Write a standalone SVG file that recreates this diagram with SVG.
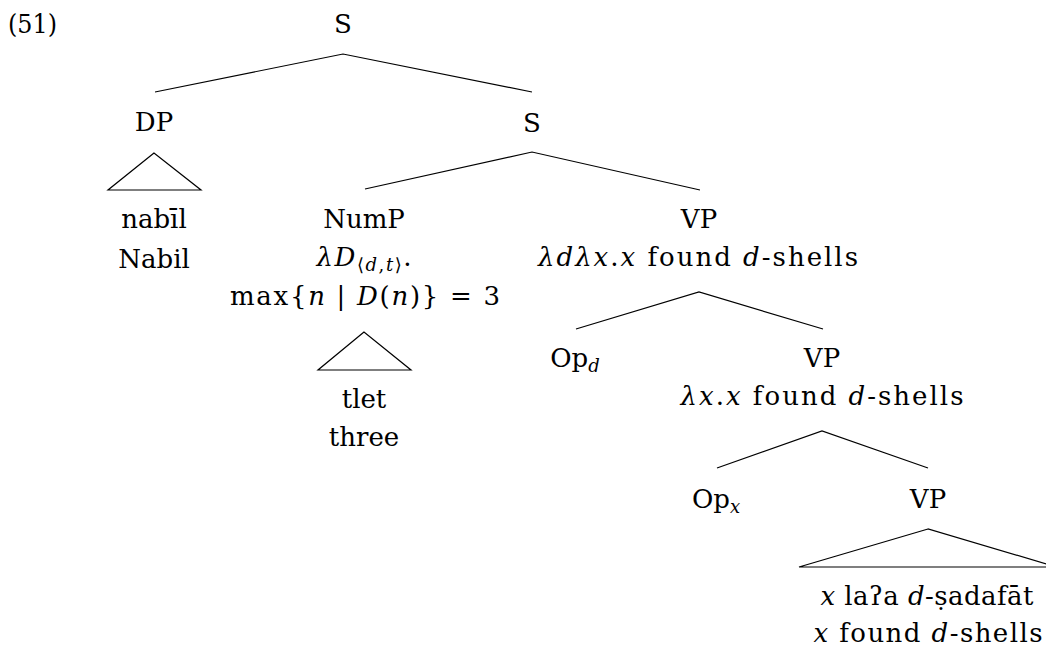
<svg xmlns="http://www.w3.org/2000/svg" width="1046" height="650" viewBox="0 0 1046 650" font-family="'DejaVu Serif', serif">
<style>
text{font-family:'DejaVu Serif','Liberation Serif',serif;font-size:26px;fill:#000;text-anchor:middle}
.i{font-style:italic}
.sub{font-size:18px}
.ln{stroke:#000;stroke-width:1.2;fill:none}
</style>
<rect width="1046" height="650" fill="#fff"/>
<g id="connectors">
<polyline class="ln" points="155,92 343,54 532,92"/>
<polygon class="ln" points="154,153 108,190 201,190"/>
<polyline class="ln" points="365,189 532,152 700,190"/>
<polygon class="ln" points="364,332 318,370 411,370"/>
<polyline class="ln" points="576,329 699,292 823,329"/>
<polyline class="ln" points="717,468 822,431 928,468"/>
<polygon class="ln" points="928,529 799,567 1057,567"/>
</g>
<g id="label"><text x="8" y="33" style="text-anchor:start" textLength="49" lengthAdjust="spacingAndGlyphs">(51)</text></g>
<g id="n_S"><text x="343" y="33">S</text></g>
<g id="n_DP"><text x="154" y="131">DP</text></g>
<g id="n_DP_leaf"><text x="154" y="228">nabīl</text><text x="154" y="268">Nabil</text></g>
<g id="n_S2"><text x="532" y="132">S</text></g>
<g id="n_NumP"><text x="364" y="228">NumP</text>
<text x="364" y="266" textLength="95"><tspan class="i">λD</tspan><tspan class="sub" dy="5">⟨<tspan class="i">d</tspan>,<tspan class="i">t</tspan>⟩</tspan><tspan dy="-5">.</tspan></text>
<text x="365" y="305" textLength="270">max{<tspan class="i">n</tspan> | <tspan class="i">D</tspan>(<tspan class="i">n</tspan>)} = 3</text></g>
<g id="n_NumP_leaf"><text x="364" y="408">tlet</text><text x="364" y="446">three</text></g>
<g id="n_VP1"><text x="699" y="228">VP</text>
<text x="698" y="266" textLength="320"><tspan class="i">λdλx</tspan>.<tspan class="i">x</tspan> found <tspan class="i">d</tspan>-shells</text></g>
<g id="n_Opd"><text x="575" y="367">Op<tspan class="sub i" dy="5">d</tspan></text></g>
<g id="n_VP2"><text x="822" y="367">VP</text>
<text x="822" y="405" textLength="283"><tspan class="i">λx</tspan>.<tspan class="i">x</tspan> found <tspan class="i">d</tspan>-shells</text></g>
<g id="n_Opx"><text x="716" y="508">Op<tspan class="sub i" dy="5">x</tspan></text></g>
<g id="n_VP3"><text x="928" y="508">VP</text></g>
<g id="n_VP3_leaf"><text x="927" y="605" textLength="213"><tspan class="i">x</tspan> laʔa <tspan class="i">d</tspan>-ṣadafāt</text>
<text x="928" y="642" textLength="229"><tspan class="i">x</tspan> found <tspan class="i">d</tspan>-shells</text></g>
</svg>
